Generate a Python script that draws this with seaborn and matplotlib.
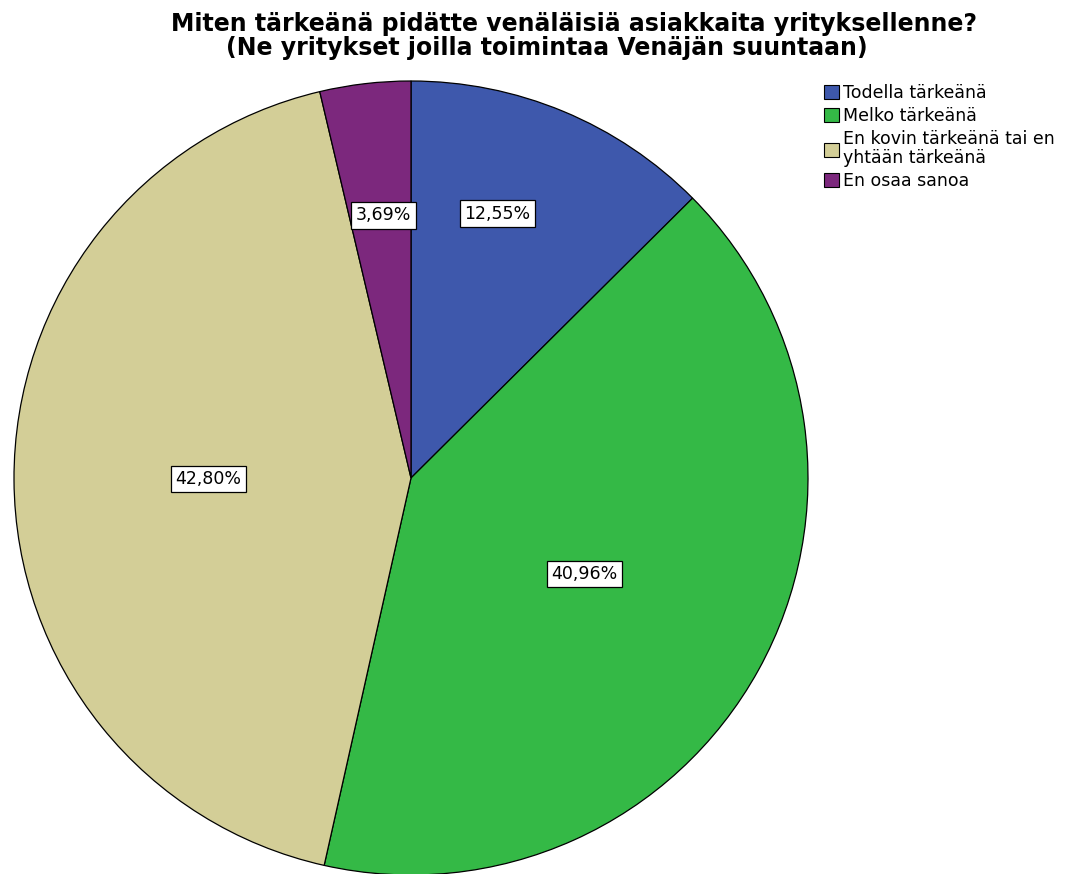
import matplotlib
matplotlib.use("Agg")
import matplotlib.pyplot as plt
import matplotlib.patches as mpatches
import numpy as np
import seaborn as sns

categories = ["Todella tärkeänä", "Melko tärkeänä",
              "En kovin tärkeänä tai en\nyhtään tärkeänä", "En osaa sanoa"]
shares = [12.55, 40.96, 42.80, 3.69]
colors = ["#3E58AC", "#34B946", "#D3CE97", "#7C287D"]
# label placement inside each wedge: distance from centre, position along the arc
label_radius = [0.70, 0.50, 0.51, 0.665]
label_arc = [0.60, 0.50, 0.50, 0.45]

title_line1 = "Miten tärkeänä pidätte venäläisiä asiakkaita yrityksellenne?"
title_line2 = "(Ne yritykset joilla toimintaa Venäjän suuntaan)"

sns.set_theme(style="white")
plt.rcParams["font.family"] = ["DejaVu Sans"]
plt.rcParams["text.color"] = "black"
palette = sns.color_palette(colors)

W, H = 1070, 874
fig = plt.figure(figsize=(W / 100, H / 100), dpi=100)
fig.patch.set_facecolor("white")

cx, cy, r = 411, 478, 397
ax = fig.add_axes([(cx - r) / W, (H - cy - r) / H, 2 * r / W, 2 * r / H])
ax.axis("off")

wedges, _ = ax.pie(shares, colors=palette, startangle=90, counterclock=False,
                   radius=1.0, wedgeprops=dict(edgecolor="black", linewidth=0.9))
ax.set_xlim(-1.0, 1.0)
ax.set_ylim(-1.0, 1.0)
ax.set_aspect("auto")

for w, val, rad, frac in zip(wedges, shares, label_radius, label_arc):
    ang = np.deg2rad(w.theta1 + frac * (w.theta2 - w.theta1))
    x, y = rad * np.cos(ang), rad * np.sin(ang)
    ax.text(x, y, f"{val:.2f}%".replace(".", ","), ha="center", va="center",
            fontsize=12.5, color="black",
            bbox=dict(boxstyle="square,pad=0.25", facecolor="white",
                      edgecolor="black", linewidth=0.9))

fig.text(574 / W, 1 - 31 / H, title_line1, ha="center", va="baseline",
         fontsize=17, fontweight="bold", color="black")
fig.text(547 / W, 1 - 55 / H, title_line2, ha="center", va="baseline",
         fontsize=17, fontweight="bold", color="black")

handles = [mpatches.Patch(facecolor=c, edgecolor="black", linewidth=0.8)
           for c in palette]
leg = fig.legend(handles, categories, loc="upper left",
                 bbox_to_anchor=(824 / W, 1 - 84 / H), frameon=False,
                 fontsize=12.5, handlelength=0.85, handleheight=0.85,
                 handletextpad=0.25, labelspacing=0.3, borderaxespad=0,
                 borderpad=0)
for t in leg.get_texts():
    t.set_color("black")
    t.set_linespacing(1.05)

fig.savefig("out.png", dpi=100, facecolor="white")
